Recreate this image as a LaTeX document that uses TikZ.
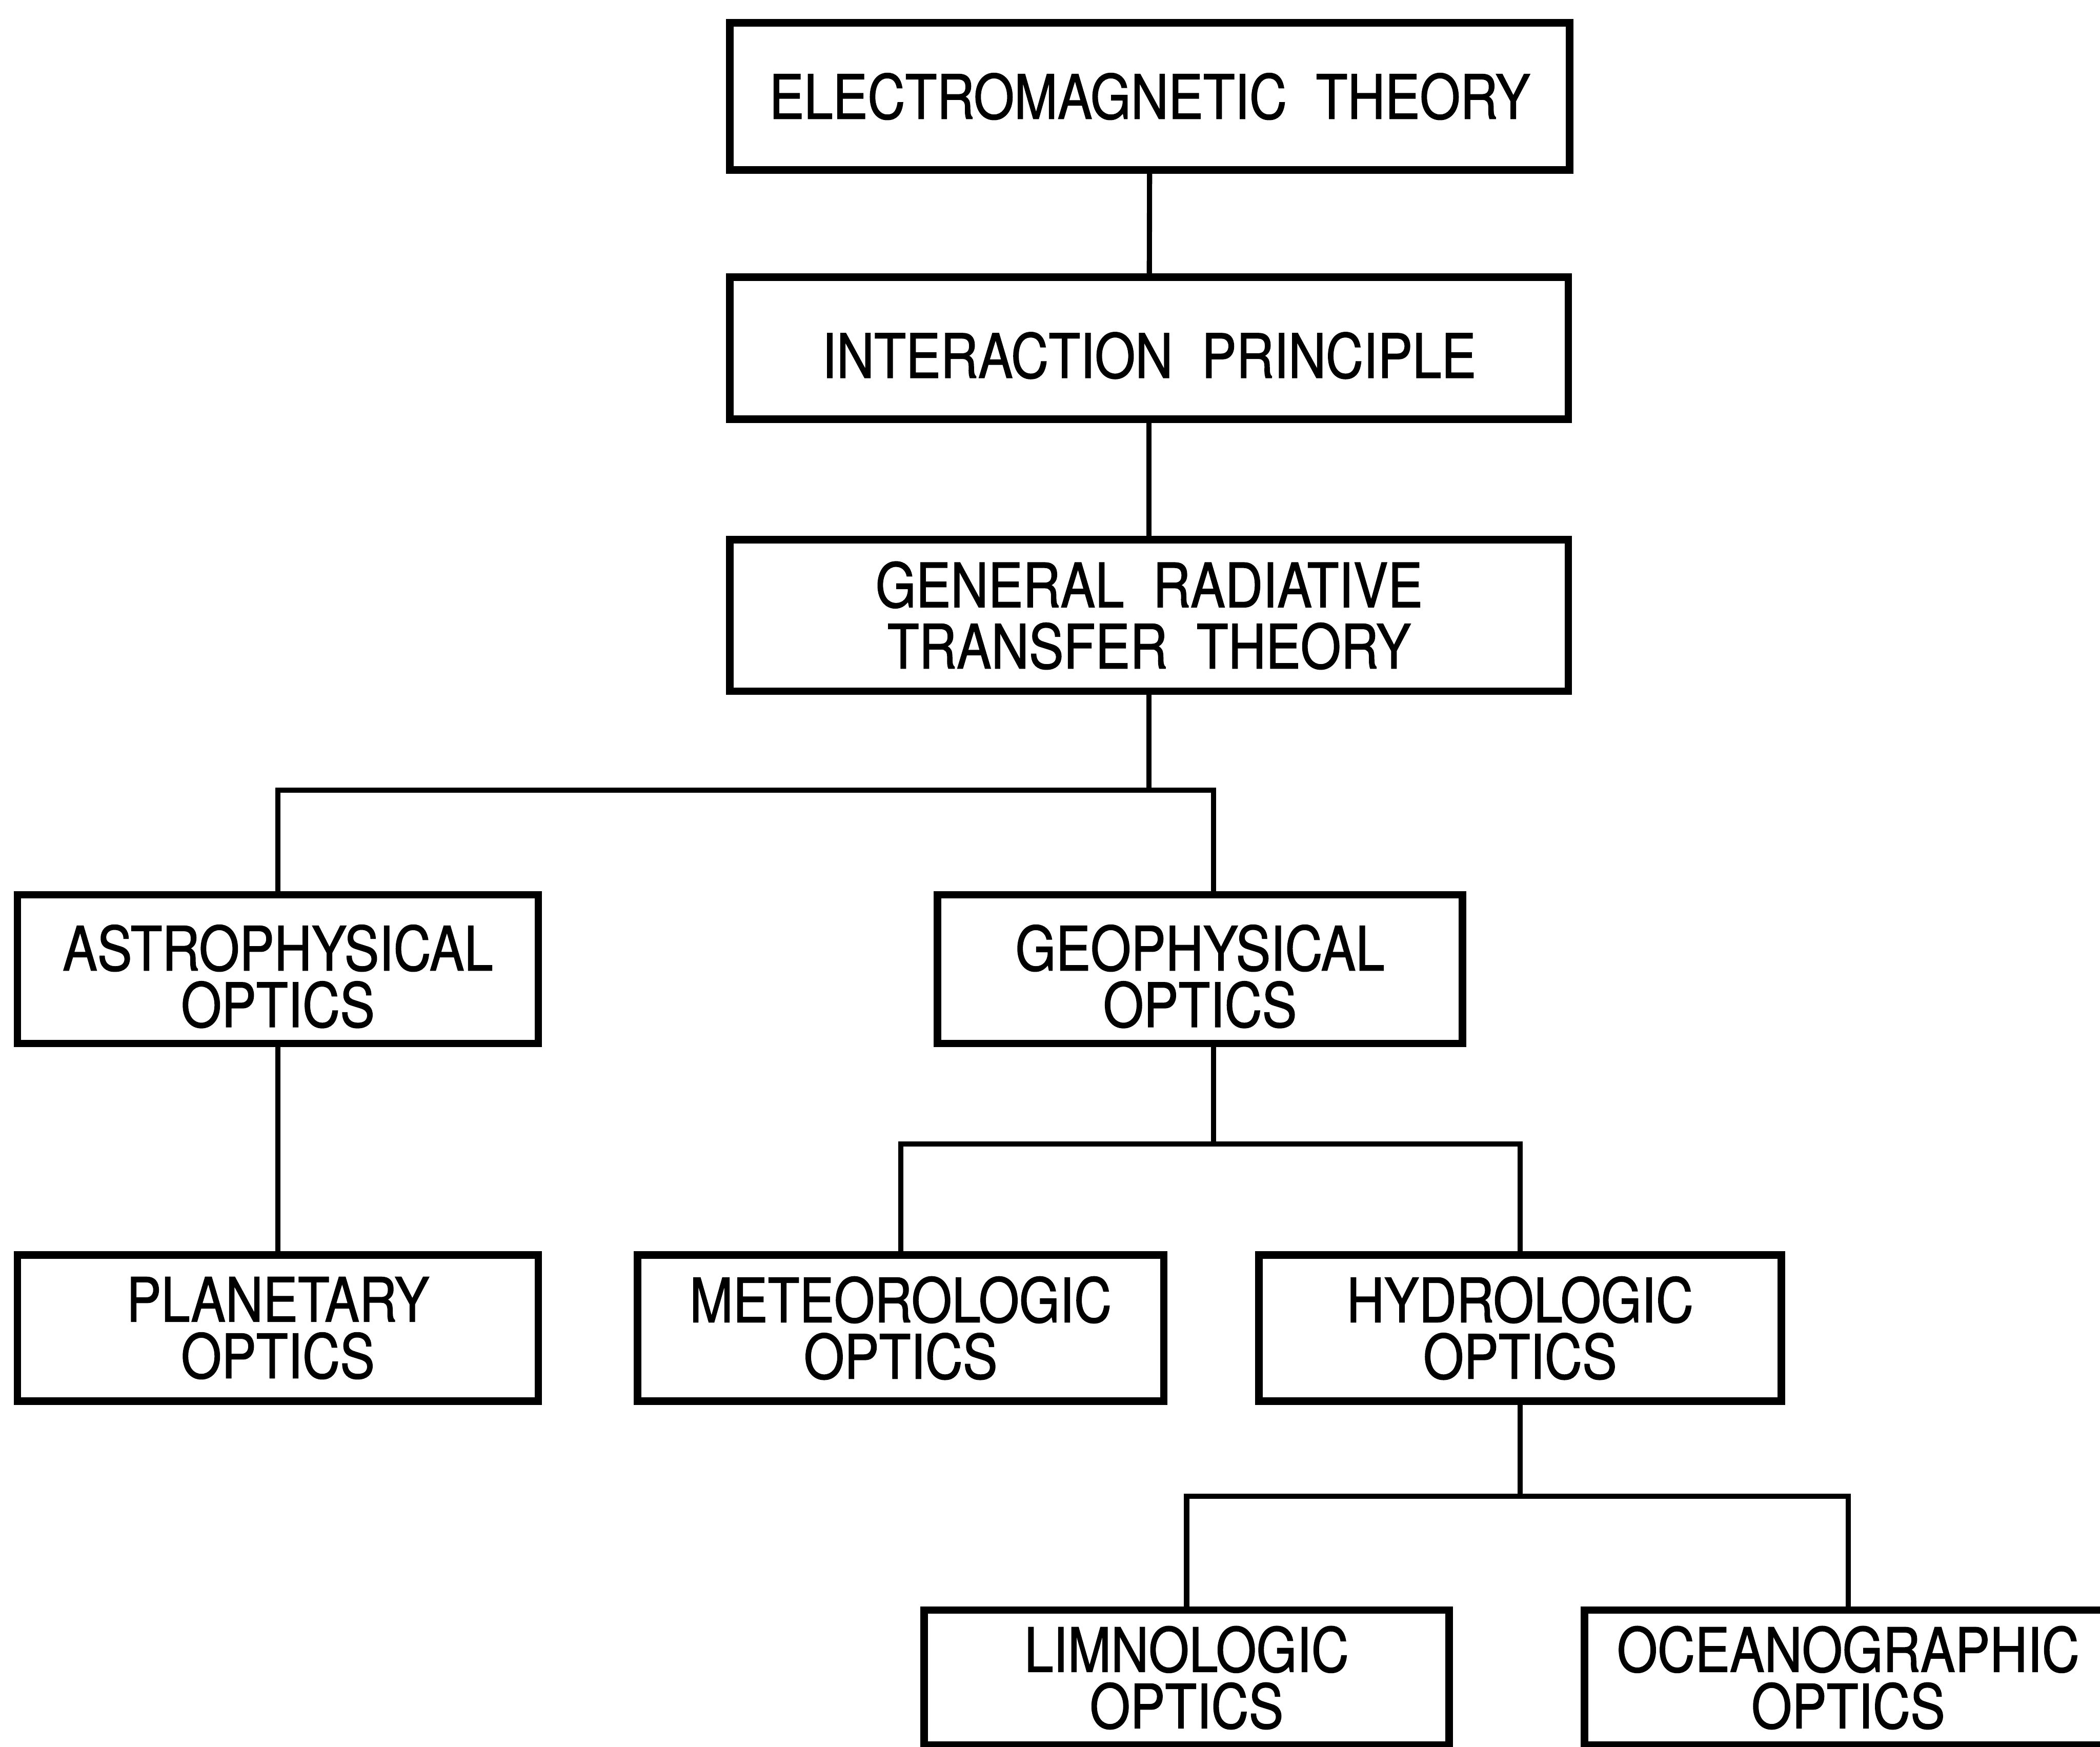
\documentclass[tikz,border=0pt]{standalone}
\usepackage{fontspec}
\setmainfont{TeX Gyre Heros}[FakeStretch=0.85,FakeBold=1.2]
\usepackage{tikz}
\newcommand{\padtop}{\rule{0pt}{0.45cm}}

\begin{document}
\begin{tikzpicture}[box/.style={draw,line width=1.6pt,rectangle,align=center,inner sep=0pt,font=\fontsize{13}{12}\selectfont},
  wire/.style={line width=1.1pt}]
\useasboundingbox (0,0) rectangle (15.68,-13.04);
\clip (0,0) rectangle (15.68,-13.04);
\node[box,minimum width=6.27cm,minimum height=1.10cm] (em) at (8.585,-0.72) {ELECTROMAGNETIC\ \ THEORY};
\node[box,minimum width=6.26cm,minimum height=1.06cm] (ip) at (8.58,-2.60) {\padtop INTERACTION\ \ PRINCIPLE};
\node[box,minimum width=6.26cm,minimum height=1.13cm,font=\fontsize{13}{13}\selectfont] (grt) at (8.58,-4.595) {GENERAL\ \ RADIATIVE\\TRANSFER\ \ THEORY};
\node[box,minimum width=3.89cm,minimum height=1.11cm] (astro) at (2.075,-7.235) {\padtop ASTROPHYSICAL\\OPTICS};
\node[box,minimum width=3.92cm,minimum height=1.11cm] (geo) at (8.96,-7.235) {\padtop GEOPHYSICAL\\OPTICS};
\node[box,minimum width=3.89cm,minimum height=1.09cm] (planet) at (2.075,-9.915) {PLANETARY\\OPTICS};
\node[box,minimum width=3.93cm,minimum height=1.09cm] (meteo) at (6.725,-9.915) {METEOROLOGIC\\OPTICS};
\node[box,minimum width=3.90cm,minimum height=1.09cm] (hydro) at (11.35,-9.915) {HYDROLOGIC\\OPTICS};
\node[box,minimum width=3.92cm,minimum height=1.01cm] (limno) at (8.86,-12.525) {LIMNOLOGIC\\OPTICS};
\node[box,minimum width=3.94cm,minimum height=1.01cm] (ocean) at (13.80,-12.525) {OCEANOGRAPHIC\\OPTICS};
% branch points
\coordinate (r1) at (9.06,-5.90);
\coordinate (r2) at (9.06,-8.54);
\coordinate (r3) at (11.36,-11.17);
\draw[wire] (em) -- (ip);
\draw[wire] (ip) -- (grt);
\draw[wire] (grt.south) -- (grt.south |- r1);
\draw[wire] (astro.north) |- (r1) -- (r1 |- geo.north);
\draw[wire] (astro) -- (planet);
\draw[wire] (r2 |- geo.south) -- (r2);
\draw[wire] (meteo.north) |- (r2) -| (hydro.north);
\draw[wire] (hydro.south) -- (hydro.south |- r3);
\draw[wire] (limno.north) |- (r3) -| (ocean.north);
\end{tikzpicture}
\end{document}
